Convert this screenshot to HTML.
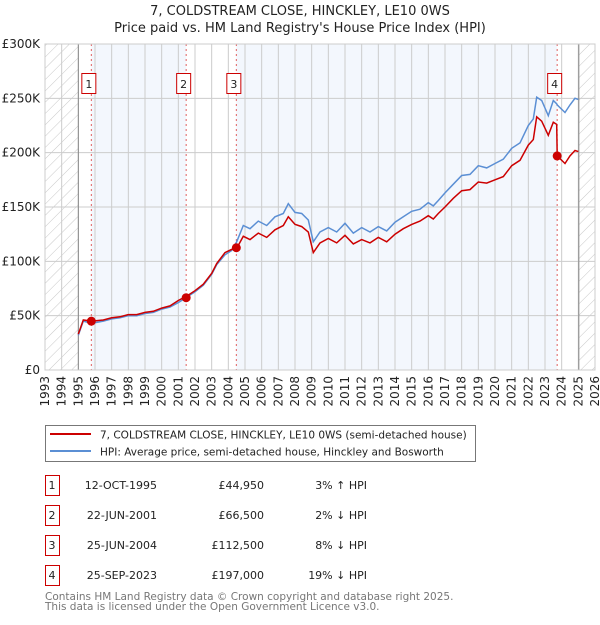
<!DOCTYPE html>
<html><head><meta charset="utf-8"><style>
body{margin:0;background:#fff;}
svg text{font-family:"DejaVu Sans","Liberation Sans",sans-serif;}
</style></head><body>
<svg id="chart" width="600" height="620" viewBox="0 0 600 620" xmlns="http://www.w3.org/2000/svg">
<defs>
<pattern id="hatch" width="8" height="8" patternUnits="userSpaceOnUse" patternTransform="rotate(45)">
<line x1="0" y1="0" x2="0" y2="8" stroke="#c8c8c8" stroke-width="1"/>
</pattern>
</defs>
<text x="300" y="15" text-anchor="middle" font-size="13" fill="#222">7, COLDSTREAM CLOSE, HINCKLEY, LE10 0WS</text>
<text x="300" y="32" text-anchor="middle" font-size="13" fill="#222">Price paid vs. HM Land Registry's House Price Index (HPI)</text>
<g id="plot"></g>
<g id="legend">
<rect x="45.5" y="425.5" width="430" height="36" fill="#fff" stroke="#777"/>
<line x1="50" y1="434" x2="91" y2="434" stroke="#cc0000" stroke-width="2"/>
<text x="100" y="438.5" font-size="10.5" fill="#222">7, COLDSTREAM CLOSE, HINCKLEY, LE10 0WS (semi-detached house)</text>
<line x1="50" y1="451" x2="91" y2="451" stroke="#5b8fd4" stroke-width="2"/>
<text x="100" y="455.5" font-size="10.5" fill="#222">HPI: Average price, semi-detached house, Hinckley and Bosworth</text>
</g>
<g id="table"></g>
<text x="45" y="600" font-size="10.5" fill="#777">Contains HM Land Registry data © Crown copyright and database right 2025.</text>
<text x="45" y="610" font-size="10.5" fill="#777">This data is licensed under the Open Government Licence v3.0.</text>
</svg>
<script>
const years = [1995.0,1995.3,1995.8,1996.5,1997,1997.5,1998,1998.5,1999,1999.5,2000,2000.5,2001,2001.5,2002,2002.5,2003,2003.3,2003.8,2004.2,2004.5,2004.9,2005.3,2005.8,2006.3,2006.8,2007.3,2007.6,2008,2008.4,2008.8,2009.1,2009.5,2010,2010.5,2011,2011.5,2012,2012.5,2013,2013.5,2014,2014.5,2015,2015.5,2016,2016.3,2016.6,2017,2017.5,2018,2018.5,2019,2019.5,2020,2020.5,2021,2021.5,2022,2022.3,2022.5,2022.8,2023.2,2023.5,2023.7,2023.73,2024.2,2024.5,2024.8,2025.0];
const hpiValues = [32,45,43,45,47,48,50,50,52,53,56,58,62,67,72,78,88,97,106,110,118,133,130,137,133,141,144,153,145,144,138,118,127,131,127,135,126,131,127,132,128,136,141,146,148,154,151,156,163,171,179,180,188,186,190,194,204,209,225,231,251,248,234,248,245,244,237,244,250,249];
const priceValues = [33,46,45,46,48,49,51,51,53,54,57,59,64,68,73,79,89,98,108,111,112,123,120,126,122,129,133,141,134,132,127,108,117,121,117,124,116,120,117,122,118,125,130,134,137,142,139,144,150,158,165,166,173,172,175,178,188,193,207,212,233,229,216,228,226,197,190,197,202,201];
const saleLabels = ["1","2","3","4"];
const saleYears = [1995.78,2001.47,2004.48,2023.73];
const saleValues = [44.95,66.5,112.5,197];
const saleDates = ["12-OCT-1995","22-JUN-2001","25-JUN-2004","25-SEP-2023"];
const salePrices = ["£44,950","£66,500","£112,500","£197,000"];
const saleDiffs = ["3% ↑ HPI","2% ↓ HPI","8% ↓ HPI","19% ↓ HPI"];
const yTicks = [0,50,100,150,200,250,300];
const yTickLabels = ["£0","£50K","£100K","£150K","£200K","£250K","£300K"];
const xStart = 1993, xEnd = 2026, dataStart = 1995.0, dataEnd = 2025.03;

const NS="http://www.w3.org/2000/svg";
const L=45,R=595,T=44,B=370;
const xs=v=>L+(v-xStart)/(xEnd-xStart)*(R-L);
const ys=v=>B-v/300*(B-T);
const plot=document.getElementById('plot');
function mk(tag,attrs,parent){const e=document.createElementNS(NS,tag);for(const k in attrs)e.setAttribute(k,attrs[k]);(parent||plot).appendChild(e);return e;}

let r=mk('rect',{x:L,y:T,width:R-L,height:B-T,fill:'#fff'});


r=mk('rect',{x:xs(saleYears[0]),y:T,width:xs(saleYears[1])-xs(saleYears[0]),height:B-T,fill:'#f3f7fd'});


r=mk('rect',{x:xs(saleYears[2]),y:T,width:xs(saleYears[3])-xs(saleYears[2]),height:B-T,fill:'#f3f7fd'});


r=mk('rect',{x:L,y:T,width:xs(dataStart)-L,height:B-T,fill:'url(#hatch)'});


r=mk('rect',{x:xs(dataEnd),y:T,width:R-xs(dataEnd),height:B-T,fill:'url(#hatch)'});



for(let y=xStart;y<=xEnd;y++){
  const g=mk('line',{x1:xs(y),x2:xs(y),y1:T,y2:B,stroke:'#cccccc','stroke-width':1});
  
  
  const t=mk('text',{x:0,y:0,'font-size':12,fill:'#222','text-anchor':'end',transform:`translate(${xs(y)+4},376) rotate(-90)`});
  t.textContent=String(y);
  
  
}
yTicks.forEach((v,i)=>{
  const g=mk('line',{x1:L,x2:R,y1:ys(v),y2:ys(v),stroke:'#cccccc','stroke-width':1});
  
  
  const t=mk('text',{x:40,y:ys(v)+4,'font-size':12,fill:'#222','text-anchor':'end'});
  t.textContent=yTickLabels[i];
  
  
});
let bl=mk('line',{x1:xs(dataStart),x2:xs(dataStart),y1:T,y2:B,stroke:'#888','stroke-width':1});


bl=mk('line',{x1:xs(dataEnd),x2:xs(dataEnd),y1:T,y2:B,stroke:'#888','stroke-width':1});



saleYears.forEach((sy,i)=>{
  const l=mk('line',{x1:xs(sy),x2:xs(sy),y1:T,y2:B,stroke:'#e06060','stroke-width':1,'stroke-dasharray':'2,3'});
  
  
  const bx=mk('rect',{x:xs(sy)-9.5,y:73.5,width:14,height:20,fill:'#fff',stroke:'#cc0000'});
  
  
  const t=mk('text',{x:xs(sy)-2.5,y:88,'font-size':11,fill:'#222','text-anchor':'middle'});
  t.textContent=saleLabels[i];
  
  
});

function path(vals){return years.map((y,i)=>(i?'L':'M')+xs(y).toFixed(1)+','+ys(vals[i]).toFixed(1)).join('');}
const hp=mk('path',{d:path(hpiValues),fill:'none',stroke:'#5b8fd4','stroke-width':1.5});


const pp=mk('path',{d:path(priceValues),fill:'none',stroke:'#cc0000','stroke-width':1.5});


saleYears.forEach((sy,i)=>{
  const c=mk('circle',{cx:xs(sy),cy:ys(saleValues[i]),r:4.5,fill:'#cc0000'});
  
  
});
const fr=mk('rect',{x:L,y:T,width:R-L,height:B-T,fill:'none',stroke:'#cccccc'});



const tb=document.getElementById('table');
saleLabels.forEach((lab,i)=>{
  const y0=475+i*30;
  const b=mk('rect',{x:45.5,y:y0+0.5,width:14,height:20,fill:'#fff',stroke:'#cc0000'},tb);
  
  
  const cells=[[52,lab,'middle','table-row-number'],[157,saleDates[i],'end','table-date'],[264,salePrices[i],'end','table-price'],[367,saleDiffs[i],'end','table-hpi-diff']];
  cells.forEach(c=>{
    const t=mk('text',{x:c[0],y:y0+14,'font-size':11,fill:'#222','text-anchor':c[2]},tb);
    t.textContent=c[1];
    
    
  });
});
</script>
</body></html>
